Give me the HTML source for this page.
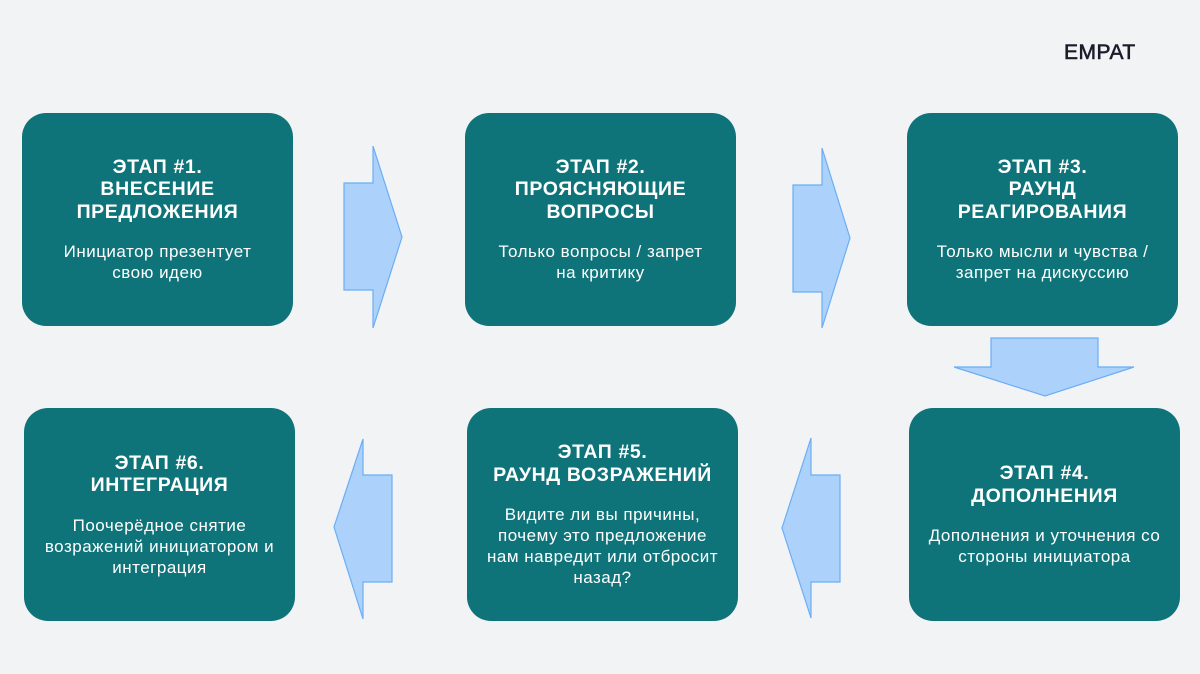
<!DOCTYPE html>
<html><head><meta charset="utf-8"><style>
body{margin:0;width:1200px;height:674px;background:#f2f3f5;position:relative;overflow:hidden;font-family:"Liberation Sans",sans-serif}
.b{position:absolute;width:271px;height:213px;background:#0e7479;border-radius:24px;color:#fff;display:flex;flex-direction:column;justify-content:center;align-items:center;text-align:center}
.t{font-size:19.5px;font-weight:bold;line-height:22.5px;letter-spacing:0.6px}
.d{font-size:17px;line-height:21px;margin-top:18px;letter-spacing:0.5px}
.logo{position:absolute;left:1064px;top:41px;font-size:21px;font-weight:normal;-webkit-text-stroke:0.6px #1a1d2b;color:#1a1d2b;letter-spacing:0.5px}
svg{position:absolute;left:0;top:0}
</style></head><body>
<div class="logo">EMPAT</div>
<svg width="1200" height="674">
<g fill="#acd2fb" stroke="#6aaef5" stroke-width="1.2">
<polygon points="344,183 373,183 373,146 402,237 373,328 373,290 344,290"/>
<polygon points="793,185 822,185 822,148 850,238 822,328 822,292 793,292"/>
<polygon points="991,338 1098,338 1098,367 1134,367 1045,396 954,367 991,367"/>
<polygon points="392,475 363,475 363,439 334,527 363,619 363,582 392,582"/>
<polygon points="840,475 811,475 811,438 782,528 811,618 811,582 840,582"/>
</g></svg>
<div class="b" style="left:22px;top:113px"><div class="t">ЭТАП #1.<br>ВНЕСЕНИЕ<br>ПРЕДЛОЖЕНИЯ</div><div class="d">Инициатор презентует<br>свою идею</div></div>
<div class="b" style="left:465px;top:113px"><div class="t">ЭТАП #2.<br>ПРОЯСНЯЮЩИЕ<br>ВОПРОСЫ</div><div class="d">Только вопросы / запрет<br>на критику</div></div>
<div class="b" style="left:907px;top:113px"><div class="t">ЭТАП #3.<br>РАУНД<br>РЕАГИРОВАНИЯ</div><div class="d">Только мысли и чувства /<br>запрет на дискуссию</div></div>
<div class="b" style="left:909px;top:408px"><div class="t">ЭТАП #4.<br>ДОПОЛНЕНИЯ</div><div class="d">Дополнения и уточнения со<br>стороны инициатора</div></div>
<div class="b" style="left:467px;top:408px"><div class="t">ЭТАП #5.<br>РАУНД ВОЗРАЖЕНИЙ</div><div class="d">Видите ли вы причины,<br>почему это предложение<br>нам навредит или отбросит<br>назад?</div></div>
<div class="b" style="left:24px;top:408px"><div class="t">ЭТАП #6.<br>ИНТЕГРАЦИЯ</div><div class="d">Поочерёдное снятие<br>возражений инициатором и<br>интеграция</div></div>
</body></html>
